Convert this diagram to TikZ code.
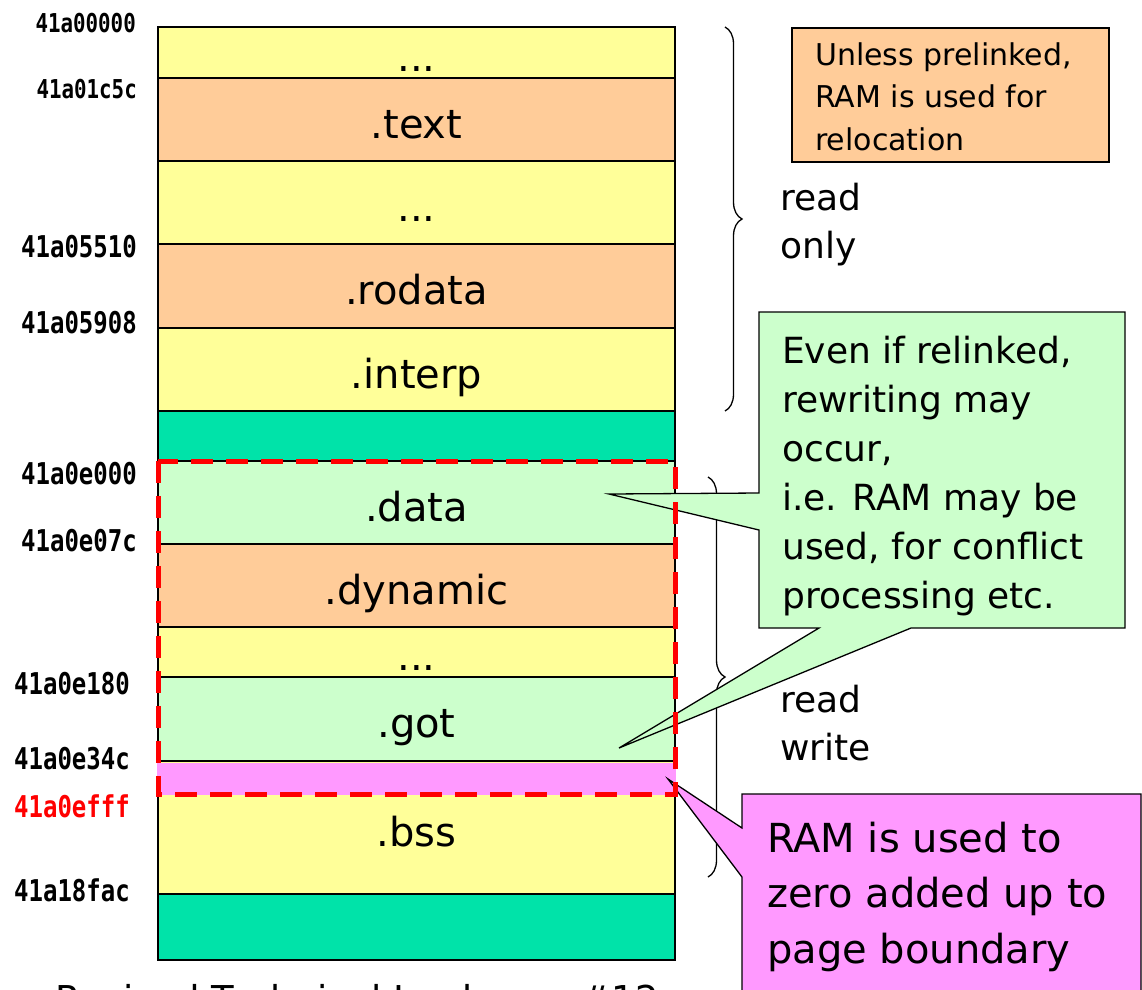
\documentclass[tikz,border=0pt]{standalone}
\usepackage{fontspec}
\setmainfont{DejaVu Sans}
\newfontfamily\addrfont[FakeStretch=0.8]{DejaVu Sans Mono}
\usetikzlibrary{decorations.pathreplacing}

\definecolor{segyellow}{HTML}{FFFF99}
\definecolor{segorange}{HTML}{FFCC99}
\definecolor{segteal}{HTML}{00E3A9}
\definecolor{seggreen}{HTML}{CCFFCC}
\definecolor{segpink}{HTML}{FF99FF}
\newcommand\fsz[2]{\fontsize{#1}{#2}\selectfont}

\begin{document}
\begin{tikzpicture}[x=1pt,y=-1pt,
  seg/.style={draw=black, line width=1.6pt, minimum width=517pt,
    inner sep=0pt, text height=37pt, text depth=0pt, font=\fsz{40}{48}},
  addr/.style={anchor=base east, inner sep=0pt,
    font=\addrfont\bfseries\fsz{30}{36}},
  addrsmall/.style={addr, font=\addrfont\bfseries\fsz{26}{30}},
  note/.style={anchor=base west, inner sep=0pt},
  callout/.style={draw=black, line width=1.3pt, line join=miter},
  bracket/.style={decorate, decoration={brace, amplitude=17pt},
    line width=1.3pt},
  dashframe/.style={draw=red, line width=5pt, dash pattern=on 22pt off 13pt}
]
\useasboundingbox (0,0) rectangle (1142,989);
\clip (0,0) rectangle (1142,989);
\fill[white] (0,0) rectangle (1142,989);

% memory segments, top to bottom
\node[seg, fill=segyellow, minimum height=51pt]  (head)    at (416.5,52.5)  {...};
\node[seg, fill=segorange, minimum height=83pt]  (text)    at (416.5,119.5) {.text};
\node[seg, fill=segyellow, minimum height=83pt]  (gapa)    at (416.5,202.5) {...};
\node[seg, fill=segorange, minimum height=84pt]  (rodata)  at (416.5,286)   {.rodata};
\node[seg, fill=segyellow, minimum height=83pt]  (interp)  at (416.5,369.5) {.interp};
\node[seg, fill=segteal,   minimum height=50pt]  (padA)    at (416.5,436)   {};
\node[seg, fill=seggreen,  minimum height=83pt]  (data)    at (416.5,502.5) {.data};
\node[seg, fill=segorange, minimum height=83pt]  (dynamic) at (416.5,585.5) {.dynamic};
\node[seg, fill=segyellow, minimum height=50pt]  (gapb)    at (416.5,652)   {...};
\node[seg, fill=seggreen,  minimum height=84pt]  (got)     at (416.5,719)   {.got};
\node[seg, fill=segyellow, minimum height=133pt] (bss)     at (416.5,827.5) {.bss};
\node[seg, fill=segteal,   minimum height=66pt]  (padB)    at (416.5,927)   {};

% zero-filled tail of the last data page
\node[fill=segpink, inner sep=0pt, minimum width=519pt, minimum height=32pt,
      anchor=north] (zerofill) at (416.5,762.4) {};

% addresses
\node[addrsmall] (a0) at (136,32)  {41a00000};
\node[addrsmall] (a1) at (137,98)  {41a01c5c};
\node[addr] (a2) at (137,257) {41a05510};
\node[addr] (a3) at (137,333) {41a05908};
\node[addr] (a4) at (137,484) {41a0e000};
\node[addr] (a5) at (137,551) {41a0e07c};
\node[addr] (a6) at (130,694) {41a0e180};
\node[addr] (a7) at (130,769) {41a0e34c};
\node[addr, text=red] (a8) at (130,817) {41a0efff};
\node[addr] (a9) at (130,901) {41a18fac};

% access braces
\draw[bracket] (725,27) -- (725,411);
\draw[bracket] (708,477) -- (708,877);
\node[note, font=\fsz{36}{48}] (ro) at (780,210)
  {\begin{tabular}[t]{@{}l@{}}read\\only\end{tabular}};
\node[note, font=\fsz{36}{48}] (rw) at (780,712)
  {\begin{tabular}[t]{@{}l@{}}read\\write\end{tabular}};

% relocation note
\draw[callout, fill=segorange, line width=1.6pt] (792,28) rectangle (1109,162);
\node[note, font=\fsz{30}{42.5}] (relnote) at (815,65)
  {\begin{tabular}[t]{@{}l@{}}Unless prelinked,\\RAM is used for\\relocation\end{tabular}};

% callout for .data and .got
\coordinate (datatip) at (609,494);
\coordinate (gottip) at (619,748);
\draw[callout, fill=seggreen] (759,312) -- (1125,312) -- (1125,628)
  -- (911,628) -- (gottip) -- (819,628) -- (759,628) -- (759,530)
  -- (datatip) -- (759,493) -- cycle;
\node[note, font=\fsz{36}{49}] (rwnote) at (782,363)
  {\begin{tabular}[t]{@{}l@{}}Even if relinked,\\rewriting may\\occur,\\i.e. RAM may be\\used, for conflict\\processing etc.\end{tabular}};

% callout for the zero-filled area
\coordinate (zerotip) at (668,779);
\draw[callout, fill=segpink] (742,828) -- (zerotip) -- (742,877)
  -- (742,1000) -- (1141,1000) -- (1141,794) -- (742,794) -- cycle;
\node[note, font=\fsz{40}{55.5}] (zeronote) at (767,852)
  {\begin{tabular}[t]{@{}l@{}}RAM is used to\\zero added up to\\page boundary\end{tabular}};

% writable pages
\draw[dashframe] (158,461) rectangle (675,794);

% footer
\node[note, font=\fsz{37}{44}] (footer) at (55,1012) {Revised Technical Jamboree \#12};
\end{tikzpicture}
\end{document}
